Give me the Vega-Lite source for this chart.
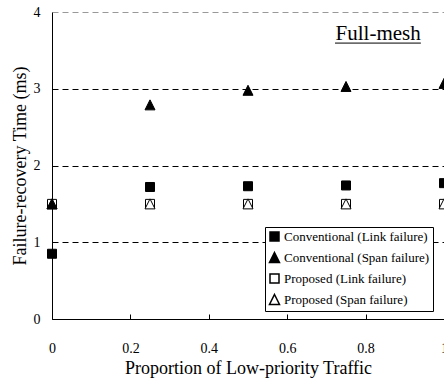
{
  "$schema": "https://vega.github.io/schema/vega-lite/v6.json",
  "width": 392,
  "height": 307,
  "autosize": "none",
  "padding": {"left": 52, "top": 12, "right": 0, "bottom": 61},
  "background": "white",
  "config": {
    "view": {"stroke": null},
    "font": "Liberation Serif",
    "axis": {"labelFont": "Liberation Serif", "titleFont": "Liberation Serif", "labelColor": "black", "titleColor": "black", "domainColor": "black", "tickColor": "black", "titleFontWeight": "normal"},
    "legend": {"labelFont": "Liberation Serif"}
  },
  "datasets": {
    "pts": [
      {"x": 0, "y": 1.5, "series": "Proposed (Link failure)"},
      {"x": 0.25, "y": 1.5, "series": "Proposed (Link failure)"},
      {"x": 0.5, "y": 1.5, "series": "Proposed (Link failure)"},
      {"x": 0.75, "y": 1.5, "series": "Proposed (Link failure)"},
      {"x": 1, "y": 1.5, "series": "Proposed (Link failure)"},
      {"x": 0, "y": 1.5, "series": "Proposed (Span failure)"},
      {"x": 0.25, "y": 1.5, "series": "Proposed (Span failure)"},
      {"x": 0.5, "y": 1.5, "series": "Proposed (Span failure)"},
      {"x": 0.75, "y": 1.5, "series": "Proposed (Span failure)"},
      {"x": 1, "y": 1.5, "series": "Proposed (Span failure)"},
      {"x": 0, "y": 0.85, "series": "Conventional (Link failure)"},
      {"x": 0.25, "y": 1.72, "series": "Conventional (Link failure)"},
      {"x": 0.5, "y": 1.73, "series": "Conventional (Link failure)"},
      {"x": 0.75, "y": 1.74, "series": "Conventional (Link failure)"},
      {"x": 1, "y": 1.77, "series": "Conventional (Link failure)"},
      {"x": 0, "y": 1.5, "series": "Conventional (Span failure)"},
      {"x": 0.25, "y": 2.79, "series": "Conventional (Span failure)"},
      {"x": 0.5, "y": 2.98, "series": "Conventional (Span failure)"},
      {"x": 0.75, "y": 3.03, "series": "Conventional (Span failure)"},
      {"x": 1, "y": 3.07, "series": "Conventional (Span failure)"}
    ],
    "note": [{"x": 0.832, "y": 3.635, "label": "Full-mesh"}],
    "underline": [{"x1": 0.722, "x2": 0.941, "y": 3.595}]
  },
  "layer": [
    {
      "data": {"name": "pts"},
      "mark": {"type": "point", "filled": false, "stroke": "black", "strokeWidth": 1, "size": 100, "opacity": 1, "clip": false},
      "encoding": {
        "x": {"field": "x", "type": "quantitative", "scale": {"domain": [0, 1], "nice": false},
          "axis": {"values": [0, 0.2, 0.4, 0.6, 0.8, 1], "format": "~g", "title": "Proportion of Low-priority Traffic", "titleFontSize": 18, "labelFontSize": 14, "tickSize": -5, "labelPadding": 27, "titlePadding": 4, "grid": false, "labelFlush": false}},
        "y": {"field": "y", "type": "quantitative", "scale": {"domain": [0, 4], "nice": false},
          "axis": {"values": [0, 1, 2, 3, 4], "format": "d", "title": "Failure-recovery Time (ms)", "titleFontSize": 18, "labelFontSize": 14, "ticks": false, "labelPadding": 12, "titlePadding": 4,
            "grid": true, "gridDash": [6, 4], "gridWidth": 1,
            "gridColor": {"condition": {"test": "datum.value === 4", "value": "#999999"}, "value": "black"}}},
        "shape": {"field": "series", "type": "nominal",
          "scale": {"domain": ["Conventional (Link failure)", "Conventional (Span failure)", "Proposed (Link failure)", "Proposed (Span failure)"], "range": ["M-0.9,-0.9H0.9V0.9H-0.9Z", "M0,-1L1,1L-1,1Z", "M-0.9,-0.9H0.9V0.9H-0.9Z", "M0,-1L1,1L-1,1Z"]},
          "legend": {"title": null, "orient": "none", "legendX": 213, "legendY": 215, "strokeColor": "black", "fillColor": "white", "padding": 3, "labelFontSize": 13, "symbolSize": 100, "rowPadding": 5, "labelOffset": 3, "cornerRadius": 0,
            "encode": {"symbols": {"update": {"stroke": {"value": "black"}, "strokeWidth": {"value": 1}}}}}},
        "fill": {"field": "series", "type": "nominal",
          "scale": {"domain": ["Conventional (Link failure)", "Conventional (Span failure)", "Proposed (Link failure)", "Proposed (Span failure)"], "range": ["black", "black", "white", "white"]},
          "legend": {"title": null}}
      }
    },
    {
      "data": {"name": "note"},
      "mark": {"type": "text", "fontSize": 21, "font": "Liberation Serif", "color": "black", "align": "center", "baseline": "alphabetic"},
      "encoding": {
        "x": {"field": "x", "type": "quantitative"},
        "y": {"field": "y", "type": "quantitative"},
        "text": {"field": "label"}
      }
    },
    {
      "data": {"name": "underline"},
      "mark": {"type": "rule", "color": "black", "strokeWidth": 1},
      "encoding": {
        "x": {"field": "x1", "type": "quantitative"},
        "x2": {"field": "x2"},
        "y": {"field": "y", "type": "quantitative"}
      }
    }
  ]
}
